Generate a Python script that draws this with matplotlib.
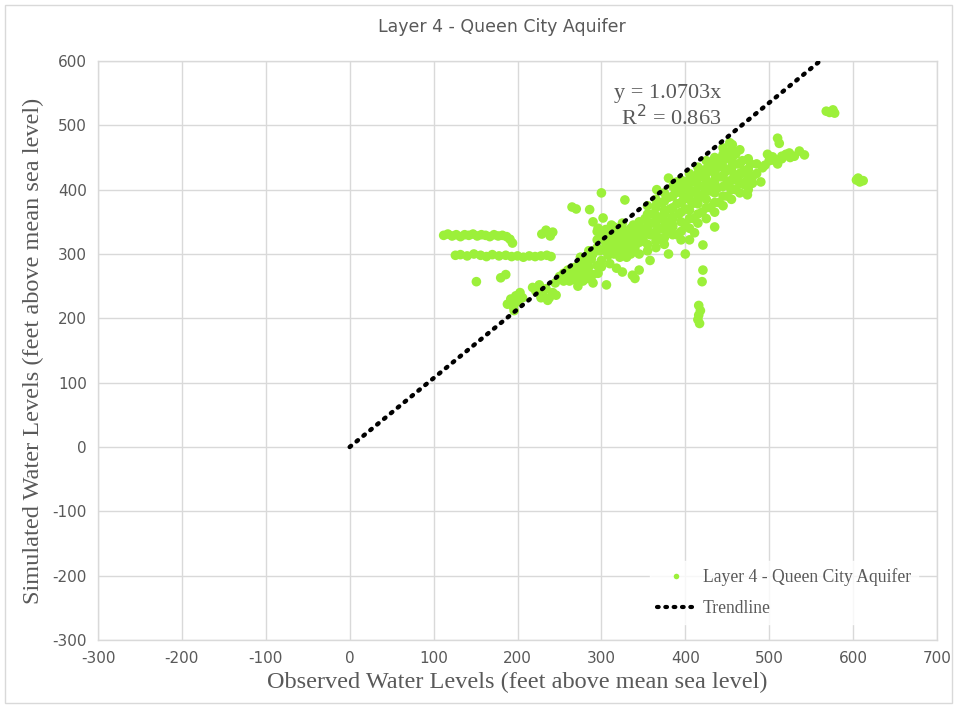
import matplotlib
matplotlib.use("Agg")
import matplotlib.pyplot as plt
from matplotlib.patches import Rectangle
from matplotlib.lines import Line2D

plt.rcParams["axes.unicode_minus"] = False

# ---------------- data ----------------
title = "Layer 4 - Queen City Aquifer"
x_label = "Observed Water Levels (feet above mean sea level)"
y_label = "Simulated Water Levels (feet above mean sea level)"
series_name = "Layer 4 - Queen City Aquifer"
trend_name = "Trendline"
slope = 1.0703
eq_text = "y = 1.0703x"
r2_text = "R$^2$ = 0.863"
x_ticks = [-300, -200, -100, 0, 100, 200, 300, 400, 500, 600, 700]
y_ticks = [-300, -200, -100, 0, 100, 200, 300, 400, 500, 600]

obs = [
    # band near 330
    112, 117, 122, 127, 132, 137, 142, 147, 152, 157, 162, 167, 172, 177, 182, 187, 191, 194,
    # band near 298
    126, 132, 140, 148, 156, 163, 170, 178, 186, 193, 200, 207, 214, 221, 228, 235, 240,
    # isolated
    151, 180, 186,
    188, 192, 195, 198, 200, 203, 196, 206,
    218, 222, 226, 230, 234, 238, 242, 246, 236, 228,
    229, 234, 239, 242,
    265, 270, 286, 300, 328, 302, 290, 296, 305, 312, 318, 325, 332, 338, 345, 350, 310, 322, 300, 340,
    280, 290, 306, 296, 300, 310, 318, 325, 337, 340, 345, 260, 262, 270, 275, 268, 255, 250, 285, 292,
    # main diagonal band
    245, 252, 258, 262, 268, 272, 275, 280, 283, 288, 290, 295, 298, 300, 305, 308, 312, 315, 318, 320,
    322, 325, 328, 330, 332, 335, 338, 340, 342, 345, 348, 350, 352, 355, 358, 360, 362, 365, 368, 370,
    372, 375, 378, 380, 382, 385, 388, 390, 392, 395, 398, 400, 402, 405, 408, 410, 412, 415, 418, 420,
    422, 425, 428, 430, 432, 435, 438, 440, 442, 445, 448, 450, 452, 455, 458, 460, 462, 465, 468, 470,
    472, 475, 478, 480, 485,
    # upper part of cluster
    400, 410, 420, 430, 440, 450, 456, 465, 453, 445, 435, 425, 415, 405, 395, 385, 375, 365, 355, 366, 380, 390,
    # right group
    465, 475, 485, 492, 500, 504, 510, 515, 520, 524, 530, 536, 542, 510, 512, 474, 453, 460, 470, 480, 490,
    # vertical group near 415
    415, 417, 416, 418, 416, 420, 421, 411, 421, 435,
    # outliers
    568, 572, 576, 578, 604, 608, 612, 606,
    # mid dense
    360, 370, 380, 390, 400, 410, 420, 430, 440, 450, 460, 395, 405, 385, 375, 365, 355, 345, 358, 330, 340, 380, 400,
    # dense fill
    345, 345, 345, 355, 355, 355, 355, 365, 365, 365, 365, 365, 375, 375, 375, 375, 375,
    385, 385, 385, 385, 385, 395, 395, 395, 395, 395, 395, 405, 405, 405, 405, 405, 405,
    415, 415, 415, 415, 415, 415, 425, 425, 425, 425, 425, 425, 435, 435, 435, 435, 435, 435,
    445, 445, 445, 445, 445, 445, 455, 455, 455, 455, 455, 455, 465, 465, 465, 465, 475, 475, 475, 475,
    295, 295, 295, 305, 305, 305, 315, 315, 315, 315, 325, 325, 325, 325, 335, 335, 335, 335,
    255, 255, 265, 265, 275, 275, 275, 285, 285, 285,
    272, 278, 283, 290, 495, 505, 515, 525, 498,
]
sim = [
    329, 331, 328, 330, 327, 330, 329, 331, 328, 330, 329, 327, 330, 328, 329, 327, 323, 317,
    298, 299, 297, 300, 298, 296, 299, 297, 298, 296, 297, 295, 297, 296, 297, 298, 296,
    257, 263, 268,
    222, 230, 218, 235, 226, 240, 212, 232,
    248, 242, 252, 238, 246, 232, 240, 236, 228, 232,
    331, 337, 328, 334,
    373, 370, 369, 395, 384, 356, 350, 340, 332, 345, 335, 340, 330, 345, 335, 328, 325, 322, 325, 322,
    262, 255, 252, 270, 280, 285, 278, 272, 267, 262, 275, 275, 265, 280, 290, 260, 258, 265, 298, 305,
    255, 262, 268, 258, 272, 280, 265, 285, 275, 292, 300, 282, 305, 290, 310, 298, 318, 305, 325, 312,
    295, 330, 318, 305, 335, 322, 310, 340, 328, 350, 335, 320, 355, 342, 330, 362, 348, 372, 355, 340,
    380, 362, 348, 388, 370, 355, 395, 378, 362, 400, 385, 370, 408, 392, 378, 412, 398, 385, 420, 405,
    392, 425, 410, 398, 430, 415, 402, 435, 420, 445, 428, 412, 450, 435, 420, 455, 440, 425, 445, 430,
    412, 420, 440, 410, 425,
    412, 420, 430, 440, 448, 456, 470, 462, 473, 465, 450, 445, 435, 425, 415, 405, 395, 385, 375, 400, 418, 412,
    423, 430, 440, 434, 445, 451, 440, 448, 455, 457, 452, 460, 454, 480, 472, 392, 404, 415, 408, 420, 412,
    198, 192, 205, 212, 220, 257, 275, 333, 314, 342,
    522, 520, 524, 519, 415, 412, 414, 418,
    330, 325, 335, 330, 345, 355, 365, 372, 380, 390, 400, 322, 322, 345, 315, 310, 305, 300, 290, 295, 310, 300, 300,
    318, 326, 345, 315, 338, 350, 362, 320, 335, 348, 360, 375, 325, 338, 352, 368, 382,
    330, 342, 358, 372, 390, 335, 350, 365, 380, 395, 408, 340, 355, 368, 385, 400, 415,
    348, 362, 378, 392, 408, 425, 355, 372, 385, 400, 415, 432, 365, 380, 395, 410, 425, 440,
    375, 390, 405, 420, 435, 455, 385, 400, 415, 430, 445, 462, 395, 410, 425, 440, 400, 415, 432, 448,
    310, 322, 335, 305, 318, 338, 300, 312, 328, 342, 305, 318, 332, 348, 300, 315, 328, 340,
    262, 270, 268, 278, 272, 282, 295, 280, 290, 305,
    250, 258, 262, 268, 438, 446, 452, 450, 455,
]

# ---------------- plot ----------------
W, H, DPI = 957, 708, 100
fig = plt.figure(figsize=(W / DPI, H / DPI), dpi=DPI)
fig.patch.set_facecolor("white")
ax = fig.add_axes([98 / W, 1 - 640 / H, (937 - 98) / W, (640 - 61) / H])

serif = ["Liberation Serif", "DejaVu Serif"]
sans = ["DejaVu Sans"]
grid_c = "#D9D9D9"
text_c = "#595959"
green = "#9CF03A"

ax.scatter(obs, sim, s=48, color=green, edgecolors="none", zorder=3)
x_line = [0, 600 / slope]
y_line = [slope * v for v in x_line]
ax.plot(x_line, y_line, color="black", linestyle=(0, (0.4, 1.6)), linewidth=3.2,
        dash_capstyle="round", solid_capstyle="round", zorder=4)

ax.set_xlim(-300, 700)
ax.set_ylim(-300, 600)
ax.set_xticks(x_ticks)
ax.set_yticks(y_ticks)
ax.grid(True, color=grid_c, linewidth=1.0, zorder=0)
ax.set_axisbelow(True)
for s in ax.spines.values():
    s.set_color(grid_c)
    s.set_linewidth(1.0)
ax.tick_params(length=0, pad=8, colors=text_c, labelsize=11)
for lab in ax.get_xticklabels() + ax.get_yticklabels():
    lab.set_family(sans)

ax.set_xlabel(x_label, fontsize=17.5, color=text_c, family=serif, labelpad=4)
ax.set_ylabel(y_label, fontsize=17.5, color=text_c, family=serif, labelpad=6)
fig.text(502 / W, 1 - 27 / H, title, ha="center", va="center", fontsize=12.5,
         color=text_c, family=sans)

ax.text(315, 550, eq_text, fontsize=16, color=text_c, family=serif,
        ha="left", va="center")
ax.text(323, 512, r2_text, fontsize=16, color=text_c, family=serif,
        ha="left", va="center")

handles = [
    Line2D([], [], marker="o", linestyle="none", markersize=4, markerfacecolor=green,
           markeredgecolor="none"),
    Line2D([], [], color="black", linestyle=(0, (0.4, 1.6)), linewidth=3.0, dash_capstyle="round"),
]
leg = ax.legend(handles, [series_name, trend_name], loc="lower right",
                bbox_to_anchor=(0.988, 0.012), frameon=True,
                prop={"family": serif, "size": 12.7}, handlelength=2.2,
                handletextpad=0.4, labelspacing=0.8)
leg.get_frame().set_facecolor("white")
leg.get_frame().set_edgecolor("white")
for t in leg.get_texts():
    t.set_color(text_c)

fig.add_artist(Rectangle((5 / W, 5 / H), 1 - 10 / W, 1 - 10 / H, transform=fig.transFigure,
                         fill=False, edgecolor="#D9D9D9", linewidth=1.0))

fig.savefig("out.png", dpi=DPI, facecolor="white")
